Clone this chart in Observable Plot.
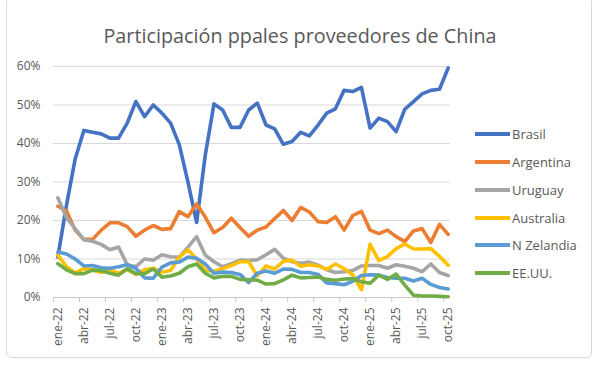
<!DOCTYPE html>
<html><head><meta charset="utf-8">
<script src="https://cdn.jsdelivr.net/npm/d3@7"></script>
<script src="https://cdn.jsdelivr.net/npm/@observablehq/plot@0.6"></script>
<style>
body{margin:0;background:#fff;}
#wrap{position:relative;width:600px;height:368px;overflow:hidden;font-family:"Open Sans",sans-serif;background:#fff;}
#frame{position:absolute;left:6px;top:-3px;width:586px;height:361px;border:1px solid #d9d9d9;border-radius:5px;box-sizing:border-box;}
#title{position:absolute;left:0;width:600px;top:22px;text-align:center;font-size:19.8px;color:#595959;white-space:nowrap;}
#legend{position:absolute;left:475px;top:120.4px;}
.item{display:flex;align-items:center;height:27.8px;font-size:13px;color:#595959;}
.sw{width:35px;height:4px;margin-right:2px;}
#wrap svg{position:absolute;left:0;top:0;}
</style></head>
<body>
<div id="wrap"><div id="frame"></div><div id="title">Participación ppales proveedores de China</div><div id="legend"></div></div>
<script>
const months = ["ene-22","feb-22","mar-22","abr-22","may-22","jun-22","jul-22","ago-22","sep-22","oct-22","nov-22","dic-22",
"ene-23","feb-23","mar-23","abr-23","may-23","jun-23","jul-23","ago-23","sep-23","oct-23","nov-23","dic-23",
"ene-24","feb-24","mar-24","abr-24","may-24","jun-24","jul-24","ago-24","sep-24","oct-24","nov-24","dic-24",
"ene-25","feb-25","mar-25","abr-25","may-25","jun-25","jul-25","ago-25","sep-25","oct-25"];
const labelEvery = ["ene-22","abr-22","jul-22","oct-22","ene-23","abr-23","jul-23","oct-23","ene-24","abr-24","jul-24","oct-24","ene-25","abr-25","jul-25","oct-25"];
const yTicks = [0,10,20,30,40,50,60];
const seriesNames = ["Brasil","Argentina","Uruguay","Australia","N Zelandia","EE.UU."];
const seriesColors = ["#4472C4","#ED7D31","#A5A5A5","#FFC000","#5B9BD5","#70AD47"];
const brasil = [10.5,24,36,43.4,42.9,42.5,41.4,41.4,45.3,50.9,47.0,50.0,47.9,45.3,39.7,30,19.5,37,50.3,48.7,44.2,44.2,48.7,50.5,44.8,43.8,39.8,40.5,42.9,42.0,44.8,47.9,49.0,53.8,53.5,54.6,44.0,46.6,45.7,43.1,48.9,50.9,52.9,53.8,54.1,59.6];
const argentina = [23.7,22.5,17.5,15.1,15.1,17.5,19.4,19.4,18.4,15.9,17.5,18.7,17.7,17.9,22.3,21.0,24.3,20.9,16.8,18.2,20.6,18.2,15.9,17.5,18.3,20.5,22.6,20.0,23.4,22.2,19.7,19.5,21.0,17.5,21.3,22.4,17.5,16.6,17.5,15.8,14.5,17.3,17.9,14.3,19.0,16.4];
const uruguay = [25.9,20.8,17.8,15.0,14.6,13.8,12.4,13.1,8.5,8.0,10.0,9.7,11.1,10.6,10.5,13.1,15.8,11.0,9.3,8.0,8.8,9.7,9.6,9.8,11.1,12.5,10.2,9.3,8.9,9.2,8.4,7.2,6.5,6.7,7.0,8.2,8.3,8.3,7.6,8.5,8.1,7.6,6.7,8.7,6.5,5.7];
const australia = [11.0,8.0,6.4,7.5,7.2,6.5,7.2,6.3,7.2,6.0,7.2,7.6,6.6,7.0,10.5,12.4,10.0,7.1,6.8,7.5,8.3,9.3,9.3,5.6,8.2,7.4,9.4,9.7,8.1,8.5,8.2,7.3,8.7,7.5,5.9,2.0,13.8,9.6,10.6,12.7,13.9,12.6,12.6,12.7,10.7,8.4];
const nzelandia = [11.8,11.3,10.0,8.2,8.3,7.7,7.6,8.0,8.5,7.6,5.1,5.0,7.9,9.0,9.2,10.5,10.2,8.7,6.3,6.6,6.5,6.0,3.9,6.3,6.9,6.3,7.4,7.3,6.5,6.5,6.0,3.8,3.6,3.3,4.2,5.7,5.9,5.8,5.2,5.0,5.0,4.3,5.0,3.4,2.6,2.2];
const eeuu = [8.8,7.2,6.2,6.2,7.1,7.0,6.3,5.8,7.5,6.2,6.2,7.4,5.3,5.6,6.3,8.0,8.7,6.3,5.1,5.5,5.5,4.7,4.6,4.5,3.5,3.6,4.6,5.8,5.1,5.2,5.3,4.7,4.5,4.8,4.9,4.1,3.7,5.8,4.7,6.1,3.2,0.6,0.4,0.4,0.3,0.2];

const seriesValues = [brasil,argentina,uruguay,australia,nzelandia,eeuu];
const rows = [];
seriesNames.forEach((s,k)=>seriesValues[k].forEach((v,i)=>rows.push({series:s,i,month:months[i],value:v})));
const labelIdx = labelEvery.map(m=>months.indexOf(m));
const boundaries = labelIdx.map(i=>i-0.5);

const chart = Plot.plot({
  width:600, height:368,
  marginLeft:53, marginRight:150, marginTop:66, marginBottom:71,
  style:{fontFamily:"'Open Sans', sans-serif", fontSize:"12px", color:"#595959", background:"transparent", overflow:"visible"},
  x:{domain:[-0.5,45.27], axis:null},
  y:{domain:[0,60], axis:null},
  color:{domain:seriesNames, range:seriesColors},
  marks:[
    Plot.gridY(yTicks, {stroke:"#d9d9d9", strokeOpacity:1, strokeWidth:1.2}),
    Plot.axisY(yTicks, {tickSize:0, tickPadding:13, tickFormat:d=>d+"%", fill:"#595959", fontSize:12, label:null}),
    Plot.ruleY([0], {stroke:"#c8c8c8", strokeWidth:1.2}),
    Plot.axisX(boundaries, {tickSize:5, tickFormat:()=>"", stroke:"#c8c8c8", strokeOpacity:1, label:null}),
    Plot.axisX(labelIdx, {tickSize:0, tickPadding:10, tickRotate:-90, tickFormat:i=>months[i], fill:"#595959", fontSize:12, label:null}),
    ...seriesNames.map(s=>Plot.line(rows.filter(r=>r.series===s), {x:"i", y:"value", stroke:"series", strokeWidth:3.6, strokeLinejoin:"round", strokeLinecap:"round"}))
  ]
});
document.getElementById("wrap").appendChild(chart);

const leg = document.getElementById("legend");
seriesNames.forEach((s,k)=>{
  const it = document.createElement("div"); it.className="item";
  const sw = document.createElement("div"); sw.className="sw"; sw.style.background=seriesColors[k];
  const tx = document.createElement("span"); tx.textContent=s;
  it.appendChild(sw); it.appendChild(tx); leg.appendChild(it);
});
</script>
</body></html>
